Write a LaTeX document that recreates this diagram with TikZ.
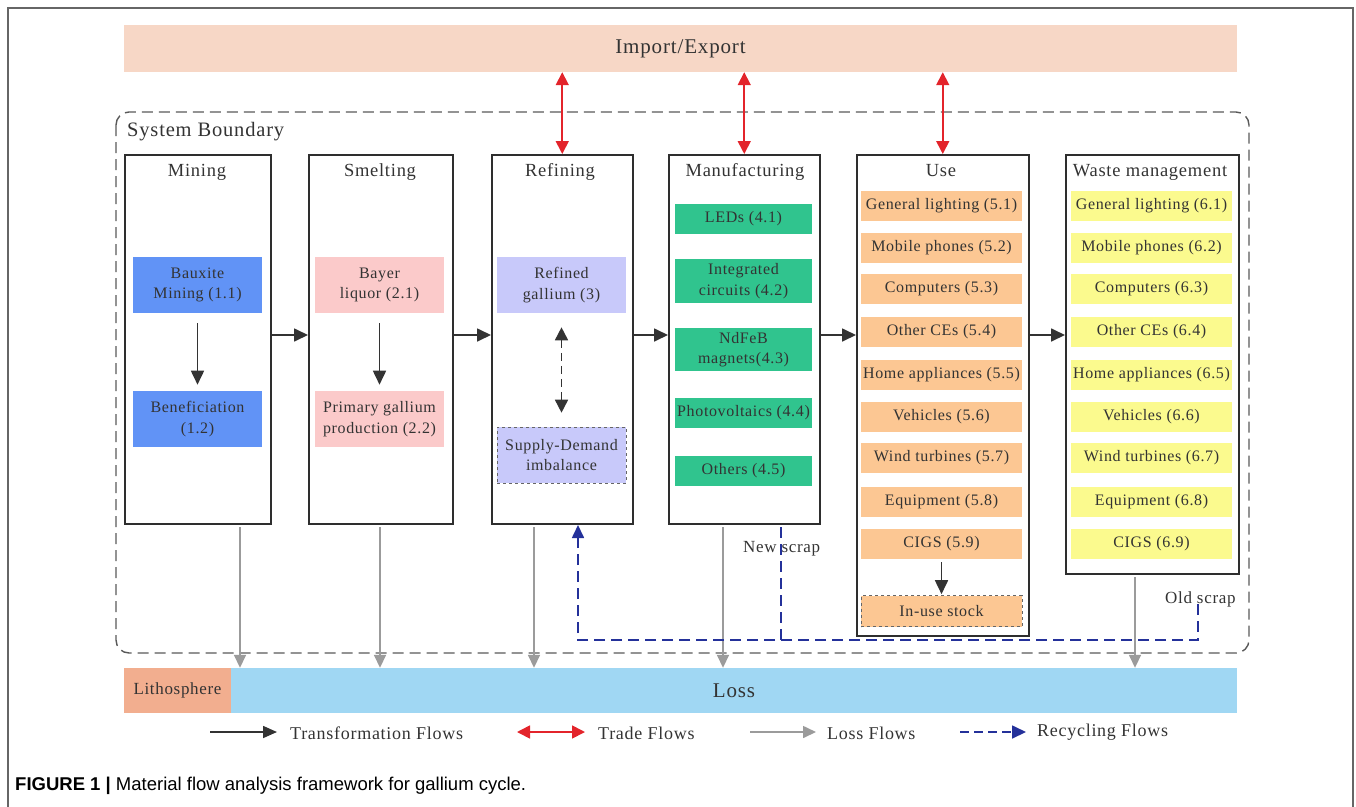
\documentclass[tikz,border=0pt]{standalone}
\usepackage{fontspec}
\setmainfont{Liberation Serif}[LetterSpace=4]
\newfontfamily\capfont{Liberation Sans}
\usetikzlibrary{arrows.meta}
\definecolor{ieFill}{HTML}{F7D7C6}
\definecolor{bluebox}{HTML}{6193F6}
\definecolor{pinkbox}{HTML}{FBCACA}
\definecolor{lavbox}{HTML}{C8C9FA}
\definecolor{greenbox}{HTML}{30C48E}
\definecolor{orangebox}{HTML}{FCC793}
\definecolor{yellowbox}{HTML}{FBFA8E}
\definecolor{lithofill}{HTML}{F2AE8F}
\definecolor{lossfill}{HTML}{A0D7F3}
\definecolor{tradered}{HTML}{E3242B}
\definecolor{recnavy}{HTML}{24319A}
\definecolor{lossgray}{HTML}{9B9B9B}
\definecolor{inkgray}{HTML}{333333}
\newcommand{\fsz}[1]{\fontsize{#1}{#1}\selectfont}
\tikzset{
  stagebox/.style={draw=inkgray!90!black, line width=1.5pt, anchor=north west, inner sep=0pt},
  stagetitle/.style={text=inkgray, font=\fsz{18.5}, inner sep=0pt},
  itembox/.style={inner sep=0pt, align=center, text=inkgray, font=\fontsize{16}{20.5}\selectfont, line width=0.6pt},
  tf/.style={draw=inkgray, line width=1.7pt, -{Triangle[length=14pt,width=13pt]}},
  trade/.style={draw=tradered, line width=1.7pt, {Triangle[length=13pt,width=13pt]}-{Triangle[length=13pt,width=13pt]}},
  lossflow/.style={draw=lossgray, line width=1.6pt, -{Triangle[length=13pt,width=12pt]}},
  recflow/.style={draw=recnavy, line width=1.7pt, dash pattern=on 11pt off 6pt},
  legtext/.style={anchor=west, text=inkgray, font=\fsz{18}, inner sep=0pt},
}
\begin{document}
\begin{tikzpicture}[x=1pt,y=-1pt]
\useasboundingbox (0,0) rectangle (1356,806);
% outer frame
\draw[draw=gray!80!black, line width=1.5pt] (8,820) -- (8,8) -- (1353,8) -- (1353,820);

% import/export
\node[fill=ieFill, minimum width=1113pt, minimum height=47pt, inner sep=0pt, text=inkgray, font=\fsz{21}] (ie) at (680.5,48.5) {Import/Export};

% system boundary
\draw[draw=gray!70!black, line width=1.4pt, dash pattern=on 11pt off 6pt, rounded corners=13pt] (116,112) rectangle (1249,653);
\node[anchor=west, text=inkgray, font=\fsz{20.5}, inner sep=0pt] (sb) at (127,132) {System Boundary};

% stage boxes
\node[stagebox, minimum width=146pt, minimum height=369pt] (mining) at (124,154) {};
\node[stagebox, minimum width=144pt, minimum height=369pt] (smelting) at (308,154) {};
\node[stagebox, minimum width=141pt, minimum height=369pt] (refining) at (491,154) {};
\node[stagebox, minimum width=151pt, minimum height=369pt] (manuf) at (668,154) {};
\node[stagebox, minimum width=172pt, minimum height=481pt] (use) at (856,154) {};
\node[stagebox, minimum width=173pt, minimum height=419pt] (waste) at (1065,154) {};

\node[stagetitle] (tmining) at (197,172) {Mining};
\node[stagetitle] (tsmelting) at (380,172) {Smelting};
\node[stagetitle] (trefining) at (560,172) {Refining};
\node[stagetitle] (tmanuf) at (745,172) {Manufacturing};
\node[stagetitle] (tuse) at (941,171) {Use};
\node[stagetitle] (twaste) at (1150,172) {Waste management};

% mining
\node[itembox, fill=bluebox, minimum width=129pt, minimum height=56pt] (bm) at (197.5,285) {Bauxite\\Mining (1.1)};
\node[itembox, fill=bluebox, minimum width=129pt, minimum height=56pt] (ben) at (197.5,419) {Beneficiation\\(1.2)};
% smelting
\node[itembox, fill=pinkbox, minimum width=129pt, minimum height=56pt] (bl) at (379.5,285) {Bayer\\liquor (2.1)};
\node[itembox, fill=pinkbox, minimum width=129pt, minimum height=56pt] (pg) at (379.5,419) {Primary gallium\\production (2.2)};
% refining
\node[itembox, fill=lavbox, minimum width=129pt, minimum height=56pt] (rg) at (561.5,285) {Refined\\gallium (3)};
\node[itembox, fill=lavbox, draw=gray!80!black, dashed, minimum width=129pt, minimum height=56pt] (sd) at (561.5,455) {Supply-Demand\\imbalance};
% manufacturing
\node[itembox, fill=greenbox, minimum width=137pt, minimum height=30pt] (m1) at (743.5,219) {LEDs (4.1)};
\node[itembox, fill=greenbox, minimum width=137pt, minimum height=44pt] (m2) at (743.5,281) {Integrated\\circuits (4.2)};
\node[itembox, fill=greenbox, minimum width=137pt, minimum height=43pt] (m3) at (743.5,349.5) {NdFeB\\magnets(4.3)};
\node[itembox, fill=greenbox, minimum width=137pt, minimum height=30pt] (m4) at (743.5,413) {Photovoltaics (4.4)};
\node[itembox, fill=greenbox, minimum width=137pt, minimum height=30pt] (m5) at (743.5,471) {Others (4.5)};
% use
\node[itembox, fill=orangebox, minimum width=161pt, minimum height=30pt] (u1) at (941.5,206) {General lighting (5.1)};
\node[itembox, fill=orangebox, minimum width=161pt, minimum height=30pt] (u2) at (941.5,248) {Mobile phones (5.2)};
\node[itembox, fill=orangebox, minimum width=161pt, minimum height=30pt] (u3) at (941.5,289) {Computers (5.3)};
\node[itembox, fill=orangebox, minimum width=161pt, minimum height=30pt] (u4) at (941.5,332) {Other CEs (5.4)};
\node[itembox, fill=orangebox, minimum width=161pt, minimum height=30pt] (u5) at (941.5,374.5) {Home appliances (5.5)};
\node[itembox, fill=orangebox, minimum width=161pt, minimum height=30pt] (u6) at (941.5,416.5) {Vehicles (5.6)};
\node[itembox, fill=orangebox, minimum width=161pt, minimum height=30pt] (u7) at (941.5,457.5) {Wind turbines (5.7)};
\node[itembox, fill=orangebox, minimum width=161pt, minimum height=30pt] (u8) at (941.5,501.5) {Equipment (5.8)};
\node[itembox, fill=orangebox, minimum width=161pt, minimum height=30pt] (u9) at (941.5,544) {CIGS (5.9)};
\node[itembox, fill=orangebox, draw=gray!80!black, dashed, minimum width=161pt, minimum height=31pt] (stock) at (941.5,611) {In-use stock};
% waste
\node[itembox, fill=yellowbox, minimum width=161pt, minimum height=30pt] (w1) at (1151.5,206) {General lighting (6.1)};
\node[itembox, fill=yellowbox, minimum width=161pt, minimum height=30pt] (w2) at (1151.5,248) {Mobile phones (6.2)};
\node[itembox, fill=yellowbox, minimum width=161pt, minimum height=30pt] (w3) at (1151.5,289) {Computers (6.3)};
\node[itembox, fill=yellowbox, minimum width=161pt, minimum height=30pt] (w4) at (1151.5,332) {Other CEs (6.4)};
\node[itembox, fill=yellowbox, minimum width=161pt, minimum height=30pt] (w5) at (1151.5,374.5) {Home appliances (6.5)};
\node[itembox, fill=yellowbox, minimum width=161pt, minimum height=30pt] (w6) at (1151.5,416.5) {Vehicles (6.6)};
\node[itembox, fill=yellowbox, minimum width=161pt, minimum height=30pt] (w7) at (1151.5,457.5) {Wind turbines (6.7)};
\node[itembox, fill=yellowbox, minimum width=161pt, minimum height=30pt] (w8) at (1151.5,501.5) {Equipment (6.8)};
\node[itembox, fill=yellowbox, minimum width=161pt, minimum height=30pt] (w9) at (1151.5,544) {CIGS (6.9)};

% lithosphere / loss
\node[fill=lithofill, minimum width=107pt, minimum height=45pt, inner sep=0pt, text=inkgray, font=\fsz{17}] (litho) at (177.5,690.5) {Lithosphere};
\node[fill=lossfill, minimum width=1006pt, minimum height=45pt, inner sep=0pt, text=inkgray, font=\fsz{21}] (loss) at (734,690.5) {Loss};

% transformation flows
\coordinate (fy) at (0,335);
\draw[tf] (mining.east |- fy) -- (smelting.west |- fy);
\draw[tf] (smelting.east |- fy) -- (refining.west |- fy);
\draw[tf] (refining.east |- fy) -- (manuf.west |- fy);
\draw[tf] (manuf.east |- fy) -- (use.west |- fy);
\draw[tf] (use.east |- fy) -- (waste.west |- fy);
\draw[tf, shorten <=10pt, shorten >=6pt] (bm.south) -- (ben.north);
\draw[tf, shorten <=10pt, shorten >=6pt] (bl.south) -- (pg.north);
\draw[tf, shorten <=3pt, shorten >=1pt] (u9.south) -- (stock.north);
\draw[draw=inkgray, line width=1.6pt, dash pattern=on 8pt off 5pt, {Triangle[length=13pt,width=13pt]}-{Triangle[length=13pt,width=13pt]}, shorten <=14pt, shorten >=14pt] (rg.south) -- (sd.north);

% trade flows
\draw[trade] (refining.north |- ie.south) -- (refining.north);
\draw[trade] (manuf.north |- ie.south) -- (manuf.north);
\draw[trade] (use.north |- ie.south) -- (use.north);

% loss flows
\coordinate (l1) at (240,527);
\coordinate (l2) at (380,527);
\coordinate (l3) at (534,527);
\coordinate (l4) at (723,527);
\coordinate (l5) at (1135,577);
\draw[lossflow] (l1) -- (l1 |- loss.north);
\draw[lossflow] (l2) -- (l2 |- loss.north);
\draw[lossflow] (l3) -- (l3 |- loss.north);
\draw[lossflow] (l4) -- (l4 |- loss.north);
\draw[lossflow] (l5) -- (l5 |- loss.north);

% recycling flows
\coordinate (os) at (1198,604);
\coordinate (rb) at (1198,640);
\coordinate (ns) at (781,527);
\coordinate (rcorner) at (578,640);
\coordinate (rtip) at (578,525);
\node[anchor=west, text=inkgray, font=\fsz{17}, inner sep=0pt] (newscrap) at (743,549) {New scrap};
\node[anchor=west, text=inkgray, font=\fsz{17}, inner sep=0pt] (oldscrap) at (1165,599) {Old scrap};
\draw[recflow, -{Triangle[length=13pt,width=12pt]}] (os) -- (rb) -- (rcorner) -- (rtip);
\draw[recflow] (ns) -- (ns |- rb);

% legend
\coordinate (lg1) at (210,732);
\coordinate (lg2) at (277,732);
\draw[draw=inkgray, line width=1.6pt, -{Triangle[length=14pt,width=12pt]}] (lg1) -- (lg2);
\node[legtext] (lt1) at (290,733) {Transformation Flows};
\coordinate (lg3) at (517,732);
\coordinate (lg4) at (585,732);
\draw[trade] (lg3) -- (lg4);
\node[legtext] (lt2) at (598,733) {Trade Flows};
\coordinate (lg5) at (750,732);
\coordinate (lg6) at (816,732);
\draw[lossflow] (lg5) -- (lg6);
\node[legtext] (lt3) at (827,733) {Loss Flows};
\coordinate (lg7) at (960,732);
\coordinate (lg8) at (1026,732);
\draw[draw=recnavy, line width=1.7pt, dash pattern=on 9pt off 5pt, -{Triangle[length=14pt,width=13pt]}] (lg7) -- (lg8);
\node[legtext] (lt4) at (1037,732) {Recycling Flows};

% caption
\node[anchor=west, inner sep=0pt, font=\capfont\fsz{18.5}] (cap) at (15,786) {\textbf{FIGURE 1 |} Material flow analysis framework for gallium cycle.};
\end{tikzpicture}
\end{document}
